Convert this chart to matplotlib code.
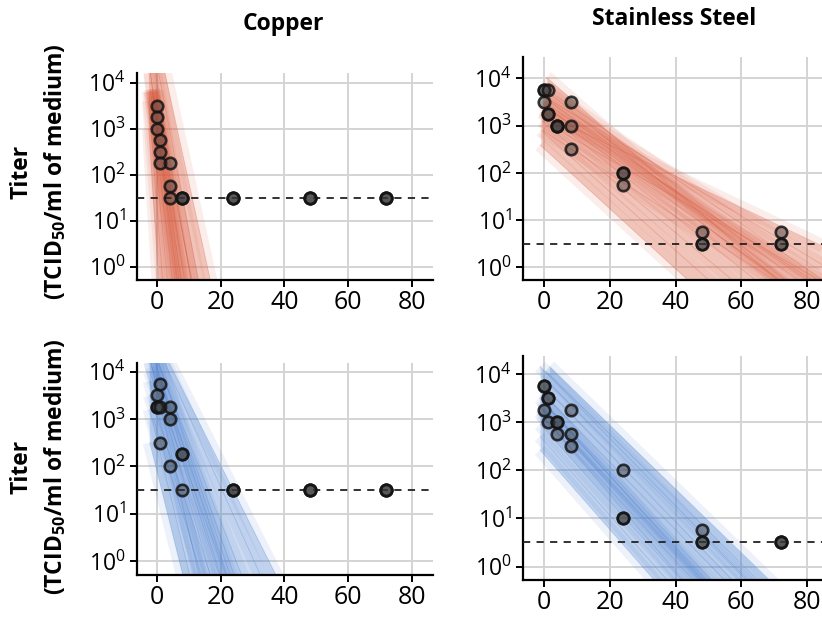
import numpy as np
import matplotlib
matplotlib.use("Agg")
import matplotlib.pyplot as plt
from matplotlib.ticker import FixedLocator, FuncFormatter, NullLocator

plt.rcParams['font.family'] = ['Open Sans', 'DejaVu Sans']
plt.rcParams['mathtext.fontset'] = 'custom'
plt.rcParams['mathtext.rm'] = 'Open Sans'
plt.rcParams['mathtext.it'] = 'Open Sans:italic'
plt.rcParams['mathtext.bf'] = 'Open Sans:bold'

# ---------------- data (log10 titer) ----------------
cu_red_t = [0, 0, 0, 1, 1, 1, 4, 4, 4, 8, 8, 8, 24, 24, 24, 48, 48, 48, 72, 72, 72]
cu_red_v = [3.5, 3.25, 3.0, 2.75, 2.5, 2.25, 2.25, 1.75, 1.5, 1.5, 1.5, 1.5,
            1.5, 1.5, 1.5, 1.5, 1.5, 1.5, 1.5, 1.5, 1.5]

ss_red_t = [0, 0, 0, 1, 1, 1, 4, 4, 4, 8, 8, 8, 24, 24, 24, 48, 48, 48, 72, 72, 72]
ss_red_v = [3.75, 3.75, 3.5, 3.75, 3.25, 3.25, 3.0, 3.0, 3.0, 3.5, 3.0, 2.5,
            2.0, 2.0, 1.75, 0.75, 0.5, 0.5, 0.75, 0.5, 0.5]

cu_blue_t = [0, 0, 0, 1, 1, 1, 4, 4, 4, 8, 8, 8, 24, 24, 24, 48, 48, 48, 72, 72, 72]
cu_blue_v = [3.5, 3.25, 3.25, 3.75, 3.25, 2.5, 3.25, 3.0, 2.0, 2.25, 2.25, 1.5,
             1.5, 1.5, 1.5, 1.5, 1.5, 1.5, 1.5, 1.5, 1.5]

ss_blue_t = [0, 0, 0, 1, 1, 1, 4, 4, 4, 8, 8, 8, 24, 24, 24, 48, 48, 48, 72, 72, 72]
ss_blue_v = [3.75, 3.75, 3.25, 3.5, 3.5, 3.0, 3.0, 3.0, 2.75, 3.25, 2.75, 2.5,
             2.0, 1.0, 1.0, 0.75, 0.5, 0.5, 0.5, 0.5, 0.5]

cu_lod = 1.5
ss_lod = 0.5

# regression lines: start time, start log10 titer, slope (log10 per hour)
cu_red_xs = [-2.5, -2.5, -2.5, -2.0, -1.5, -1.0, -0.5, -2.0, 0.0, -2.5, -2.5, -2.5, -2.5, -1.0, -1.5, -2.0]
cu_red_ys = [3.0, 3.6, 3.8, 3.85, 3.85, 3.85, 3.83, 3.8, 3.8, 4.5, 5.0, 5.8, 5.3, 3.7, 3.8, 4.2]
cu_red_m = [-1.08, -0.9, -0.7, -0.6, -0.52, -0.48, -0.45, -0.42, -0.38, -0.55, -0.4, -0.316, -0.36, -0.33, -0.56, -0.5]

ss_red_xs = [-1.3, -1.0, -0.8, -0.5, -0.3, 0.0, 0.3, 0.7, -1.0, -0.5, 0.0, 0.3, -0.5, 0.0, -0.5, 0.0]
ss_red_ys = [2.59, 2.9, 3.1, 3.3, 3.45, 3.6, 3.75, 4.02, 3.28, 3.1, 3.4, 3.6, 2.9, 3.8, 3.35, 3.5]
ss_red_m = [-0.0635, -0.062, -0.058, -0.055, -0.052, -0.05, -0.055, -0.061, -0.033, -0.04, -0.045, -0.042, -0.045, -0.048, -0.05, -0.047]

cu_blue_xs = [-2.2, -2.2, -2.2, -2.0, -1.5, -1.0, -0.5, -2.2, -2.2, -2.2, -2.2, -2.2, -2.2, -1.0, -1.5, -1.0]
cu_blue_ys = [2.5, 3.2, 3.8, 4.2, 4.4, 4.5, 4.4, 4.0, 4.6, 4.9, 5.0, 3.5, 4.3, 3.0, 4.1, 4.3]
cu_blue_m = [-0.27, -0.28, -0.26, -0.24, -0.22, -0.2, -0.19, -0.18, -0.17, -0.15, -0.134, -0.2, -0.3, -0.22, -0.21, -0.2]

ss_blue_xs = [-1.3, -1.3, -1.3, -1.0, -1.0, -0.8, -0.5, -0.3, 0.0, 0.5, 1.5, -1.3, -1.3, -1.3, -1.0, -0.5]
ss_blue_ys = [2.42, 2.7, 2.95, 3.15, 3.3, 3.45, 3.6, 3.75, 3.9, 4.05, 4.15, 3.2, 3.5, 4.15, 3.25, 3.4]
ss_blue_m = [-0.0776, -0.077, -0.075, -0.074, -0.073, -0.072, -0.07, -0.07, -0.068, -0.067, -0.066, -0.08, -0.076, -0.07, -0.073, -0.074]

RED = '#d9573a'
BLUE = '#4a7fd0'

W, H = 822, 619
fig = plt.figure(figsize=(W / 100, H / 100), dpi=100)


def px_axes(left, top, right, bottom):
    return fig.add_axes([left / W, 1 - bottom / H, (right - left) / W, (bottom - top) / H])


panels = [
    dict(box=(136.7, 73.3, 433.3, 280), xlim=(-6.3, 86.7), ylim=(-0.29, 4.2),
         t=cu_red_t, v=cu_red_v, lod=cu_lod, xs=cu_red_xs, ys=cu_red_ys, m=cu_red_m, c=RED),
    dict(box=(522.7, 56.7, 829.7, 280), xlim=(-6.6, 87.0), ylim=(-0.27, 4.46),
         t=ss_red_t, v=ss_red_v, lod=ss_lod, xs=ss_red_xs, ys=ss_red_ys, m=ss_red_m, c=RED),
    dict(box=(136.7, 362.7, 433.3, 575), xlim=(-6.3, 86.7), ylim=(-0.30, 4.19),
         t=cu_blue_t, v=cu_blue_v, lod=cu_lod, xs=cu_blue_xs, ys=cu_blue_ys, m=cu_blue_m, c=BLUE),
    dict(box=(522.7, 356, 829.7, 580), xlim=(-6.6, 87.0), ylim=(-0.28, 4.37),
         t=ss_blue_t, v=ss_blue_v, lod=ss_lod, xs=ss_blue_xs, ys=ss_blue_ys, m=ss_blue_m, c=BLUE),
]

for p in panels:
    ax = px_axes(*p['box'])
    ax.set_yscale('log')
    ax.set_xlim(*p['xlim'])
    ax.set_ylim(10 ** p['ylim'][0], 10 ** p['ylim'][1])
    ax.set_axisbelow(True)
    ax.grid(True, color='#d4d4d4', lw=1.4)
    ax.yaxis.set_major_locator(FixedLocator([1, 10, 100, 1000, 10000]))
    ax.yaxis.set_minor_locator(NullLocator())
    ax.yaxis.set_major_formatter(FuncFormatter(lambda v, pos: r'$10^{%d}$' % round(np.log10(v))))
    ax.set_xticks([0, 20, 40, 60, 80])
    for s in ['top', 'right']:
        ax.spines[s].set_visible(False)
    for s in ['left', 'bottom']:
        ax.spines[s].set_linewidth(1.6)
    ax.tick_params(axis='both', length=5, width=1.4, pad=3)
    ax.tick_params(axis='x', labelsize=18, pad=2)
    ax.tick_params(axis='y', labelsize=16.5)

    # band of regression lines
    xs = np.array(p['xs']); ys = np.array(p['ys']); ms = np.array(p['m'])
    xg = np.linspace(xs.min(), 95, 600)
    Y = np.full((len(xs), xg.size), np.nan)
    for i in range(len(xs)):
        ok = xg >= xs[i]
        Y[i, ok] = ys[i] + ms[i] * (xg[ok] - xs[i])
    upper = np.nanmax(Y, axis=0)
    lower = np.nanmin(Y, axis=0)
    ax.fill_between(xg, 10 ** lower, 10 ** upper, color=p['c'], alpha=0.27, lw=0, zorder=2)
    for i in range(len(xs)):
        xx = np.array([xs[i], 95])
        yy = ys[i] + ms[i] * (xx - xs[i])
        ax.plot(xx, 10 ** yy, color=p['c'], lw=10, alpha=0.10, zorder=2, solid_capstyle='butt')
        ax.plot(xx, 10 ** yy, color=p['c'], lw=0.6, alpha=0.3, zorder=2)

    ax.axhline(10 ** p['lod'], color='#222222', lw=1.3, ls=(0, (4, 3.5)), zorder=3)
    ax.scatter(p['t'], 10 ** np.array(p['v']), s=68, facecolor=(0.22, 0.22, 0.22, 0.45),
               edgecolor=(0.08, 0.08, 0.08, 0.85), linewidth=1.9, zorder=4, clip_on=False)

fig.text(283 / W, 1 - 24 / H, 'Copper', ha='center', va='center', fontsize=16.5, fontweight='bold')
fig.text(674 / W, 1 - 19 / H, 'Stainless Steel', ha='center', va='center', fontsize=16.5, fontweight='bold')

for yc in (172, 467):
    fig.text(22 / W, 1 - yc / H, 'Titer', rotation=90, ha='center', va='center',
             fontsize=16.5, fontweight='bold')
    fig.text(55 / W, 1 - yc / H, r'(TCID$_{\mathbf{50}}$/ml of medium)', rotation=90,
             ha='center', va='center', fontsize=16.5, fontweight='bold')

fig.savefig('out.png', dpi=100)
